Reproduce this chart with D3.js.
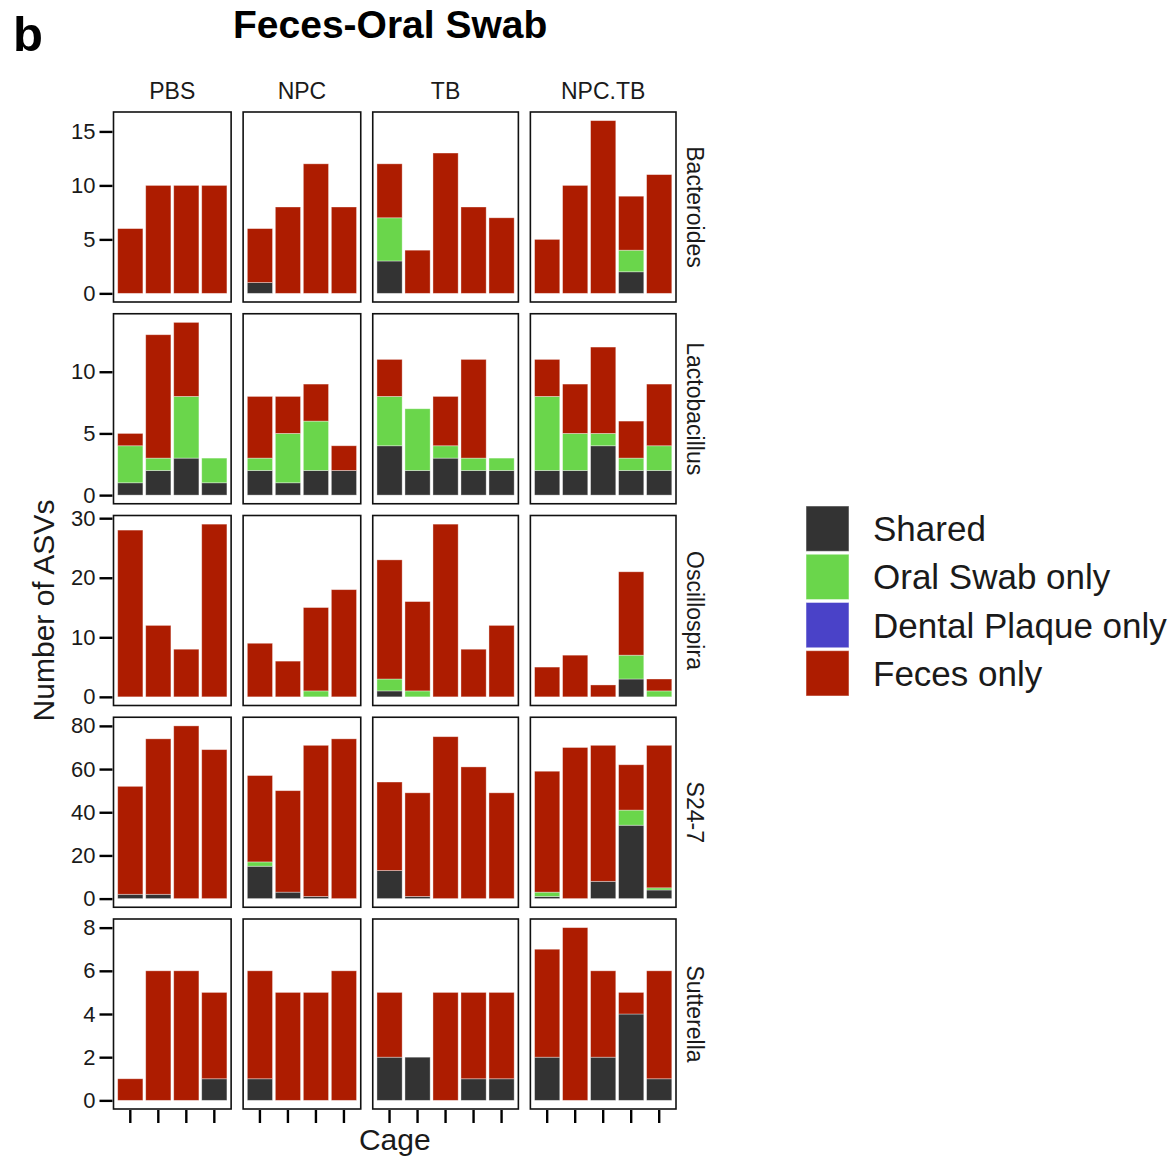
<!DOCTYPE html>
<html>
<head>
<meta charset="utf-8">
<script src="https://cdn.jsdelivr.net/npm/d3@7"></script>
<style>
  html, body { margin: 0; padding: 0; background: #ffffff; }
  svg { display: block; }
  text { font-family: "Liberation Sans", Arial, Helvetica, sans-serif; }
</style>
</head>
<body>
<script>
// ---------------- DATA ----------------
const groups = ["PBS", "NPC", "TB", "NPC.TB"];
const cagesPBS = ["PBS-1", "PBS-2", "PBS-3", "PBS-4"];
const cagesNPC = ["NPC-1", "NPC-2", "NPC-3", "NPC-4"];
const cagesTB = ["TB-1", "TB-2", "TB-3", "TB-4", "TB-5"];
const cagesNPCTB = ["NPC.TB-1", "NPC.TB-2", "NPC.TB-3", "NPC.TB-4", "NPC.TB-5"];
const cageLists = [cagesPBS, cagesNPC, cagesTB, cagesNPCTB];

const genera = ["Bacteroides", "Lactobacillus", "Oscillospira", "S24-7", "Sutterella"];
const categories = ["Shared", "Oral Swab only", "Dental Plaque only", "Feces only"];
const categoryColors = ["#333333", "#6ad64b", "#4a42c8", "#ad1c00"];

// Each row = genus; 18 values = PBS(4), NPC(4), TB(5), NPC.TB(5)
const shared = [
  [0, 0, 0, 0,   1, 0, 0, 0,   3, 0, 0, 0, 0,   0, 0, 0, 2, 0],
  [1, 2, 3, 1,   2, 1, 2, 2,   4, 2, 3, 2, 2,   2, 2, 4, 2, 2],
  [0, 0, 0, 0,   0, 0, 0, 0,   1, 0, 0, 0, 0,   0, 0, 0, 3, 0],
  [2, 2, 0, 0,  15, 3, 1, 0,  13, 1, 0, 0, 0,   1, 0, 8, 34, 4],
  [0, 0, 0, 1,   1, 0, 0, 0,   2, 2, 0, 1, 1,   2, 0, 2, 4, 1]
];
const oralSwabOnly = [
  [0, 0, 0, 0,   0, 0, 0, 0,   4, 0, 0, 0, 0,   0, 0, 0, 2, 0],
  [3, 1, 5, 2,   1, 4, 4, 0,   4, 5, 1, 1, 1,   6, 3, 1, 1, 2],
  [0, 0, 0, 0,   0, 0, 1, 0,   2, 1, 0, 0, 0,   0, 0, 0, 4, 1],
  [0, 0, 0, 0,   2, 0, 0, 0,   0, 0, 0, 0, 0,   2, 0, 0, 7, 1],
  [0, 0, 0, 0,   0, 0, 0, 0,   0, 0, 0, 0, 0,   0, 0, 0, 0, 0]
];
const dentalPlaqueOnly = [
  [0, 0, 0, 0,   0, 0, 0, 0,   0, 0, 0, 0, 0,   0, 0, 0, 0, 0],
  [0, 0, 0, 0,   0, 0, 0, 0,   0, 0, 0, 0, 0,   0, 0, 0, 0, 0],
  [0, 0, 0, 0,   0, 0, 0, 0,   0, 0, 0, 0, 0,   0, 0, 0, 0, 0],
  [0, 0, 0, 0,   0, 0, 0, 0,   0, 0, 0, 0, 0,   0, 0, 0, 0, 0],
  [0, 0, 0, 0,   0, 0, 0, 0,   0, 0, 0, 0, 0,   0, 0, 0, 0, 0]
];
const fecesOnly = [
  [6, 10, 10, 10,   5, 8, 12, 8,   5, 4, 13, 8, 7,   5, 10, 16, 5, 11],
  [1, 10, 6, 0,     5, 3, 3, 2,    3, 0, 4, 8, 0,    3, 4, 7, 3, 5],
  [28, 12, 8, 29,   9, 6, 14, 18,  20, 15, 29, 8, 12, 5, 7, 2, 14, 2],
  [50, 72, 80, 69,  40, 47, 70, 74, 41, 48, 75, 61, 49, 56, 70, 63, 21, 66],
  [1, 6, 6, 4,      5, 5, 5, 6,    3, 0, 5, 4, 4,    5, 8, 4, 1, 5]
];
const yTicks = [
  [0, 5, 10, 15],
  [0, 5, 10],
  [0, 10, 20, 30],
  [0, 20, 40, 60, 80],
  [0, 2, 4, 6, 8]
];

// ---------------- LAYOUT ----------------
const W = 1174, H = 1157;
const panelTop = 112, panelH = 190, rowGap = 11.75;
const panelLeft = 113.5, panelRight = 676, colGap = 12;
const FONT = '"Liberation Sans", Arial, Helvetica, sans-serif';

const svg = d3.select("body").append("svg").attr("width", W).attr("height", H);

const seriesArrays = [shared, oralSwabOnly, dentalPlaqueOnly, fecesOnly];
const color = d3.scaleOrdinal().domain(categories).range(categoryColors);

const units = cageLists.map(c => c.length + 0.2);
const unitW = (panelRight - panelLeft - colGap * (groups.length - 1)) / d3.sum(units);
const colX = [];
{
  let x = panelLeft;
  units.forEach(u => { colX.push([x, x + u * unitW]); x += u * unitW + colGap; });
}
const xScales = cageLists.map((cages, g) =>
  d3.scaleBand().domain(cages).range(colX[g]).paddingInner(0.1).paddingOuter(0.15));

const stack = d3.stack().keys(categories);

genera.forEach((genus, r) => {
  const top = panelTop + r * (panelH + rowGap);
  const bottom = top + panelH;
  let offset = 0;
  const recordsByGroup = cageLists.map(cages => {
    const recs = cages.map((cage, i) => {
      const rec = { cage };
      categories.forEach((c, k) => { rec[c] = seriesArrays[k][r][offset + i]; });
      return rec;
    });
    offset += cages.length;
    return recs;
  });
  const maxTotal = d3.max(recordsByGroup.flat(), d => d3.sum(categories, c => d[c]));
  const y = d3.scaleLinear().domain([-0.05 * maxTotal, 1.05 * maxTotal]).range([bottom, top]);

  groups.forEach((grp, g) => {
    const x = xScales[g];
    const [x0, x1] = colX[g];
    const panel = svg.append("g");
    panel.append("rect").attr("x", x0).attr("y", top).attr("width", x1 - x0).attr("height", panelH)
      .attr("fill", "#ffffff");
    const stacked = stack(recordsByGroup[g]);
    stacked.forEach(layer => {
      panel.append("g").selectAll("rect").data(layer).join("rect")
        .attr("x", d => x(d.data.cage))
        .attr("width", x.bandwidth())
        .attr("y", d => y(d[1]))
        .attr("height", d => Math.max(0, y(d[0]) - y(d[1])))
        .attr("fill", color(layer.key))
        .attr("stroke", "#ffffff")
        .attr("stroke-opacity", d => (d[1] - d[0]) > 0 ? 0.45 : 0)
        .attr("stroke-width", 0.8);
    });
    panel.append("rect").attr("x", x0).attr("y", top).attr("width", x1 - x0).attr("height", panelH)
      .attr("fill", "none").attr("stroke", "#111111").attr("stroke-width", 1.6);

    if (r === genera.length - 1) {
      const ax = svg.append("g").attr("transform", `translate(0,${bottom + 1})`)
        .call(d3.axisBottom(x).tickSize(13).tickFormat(""));
      ax.select(".domain").remove();
      ax.selectAll(".tick line").attr("stroke", "#000").attr("stroke-width", 2.4);
    }
    if (r === 0) {
      svg.append("text").attr("x", (x0 + x1) / 2).attr("y", 99)
        .attr("text-anchor", "middle").style("font-size", "23px").attr("fill", "#1a1a1a")
        .text(grp);
    }
  });

  const ay = svg.append("g").attr("transform", `translate(${panelLeft - 1},0)`)
    .call(d3.axisLeft(y).tickValues(yTicks[r]).tickSize(13).tickPadding(4).tickFormat(d3.format("d")));
  ay.select(".domain").remove();
  ay.selectAll(".tick line").attr("stroke", "#000").attr("stroke-width", 2.4);
  ay.selectAll(".tick text").style("font-size", "22px").style("font-family", FONT).attr("fill", "#1a1a1a");

  const cy = (top + bottom) / 2;
  svg.append("text").attr("transform", `translate(695,${cy}) rotate(90)`)
    .attr("text-anchor", "middle").attr("dominant-baseline", "central")
    .style("font-size", "23px").attr("fill", "#1a1a1a").text(genus);
});

svg.append("text").attr("x", (panelLeft + panelRight) / 2).attr("y", 1150)
  .attr("text-anchor", "middle").style("font-size", "30px").attr("fill", "#1a1a1a").text("Cage");
const yMid = (panelTop + panelTop + 5 * panelH + 4 * rowGap) / 2;
svg.append("text").attr("transform", `translate(54,${yMid}) rotate(-90)`)
  .attr("text-anchor", "middle").style("font-size", "30px").attr("fill", "#1a1a1a").text("Number of ASVs");

svg.append("text").attr("x", 233).attr("y", 38).style("font-size", "39px").style("font-weight", "bold")
  .attr("fill", "#000").text("Feces-Oral Swab");
svg.append("text").attr("x", 13).attr("y", 51).style("font-size", "49px").style("font-weight", "bold")
  .attr("fill", "#000").text("b");

const legendY = d3.scaleBand().domain(categories).range([506, 696]).paddingInner(0.06);
const leg = svg.append("g");
leg.selectAll("rect").data(categories).join("rect")
  .attr("x", 806).attr("y", d => legendY(d)).attr("width", 43).attr("height", legendY.bandwidth())
  .attr("fill", d => color(d)).attr("stroke", "#ffffff").attr("stroke-opacity", 0.5).attr("stroke-width", 1);
leg.selectAll("text").data(categories).join("text")
  .attr("x", 873).attr("y", d => legendY(d) + legendY.bandwidth() / 2)
  .attr("dominant-baseline", "central").style("font-size", "35px").attr("fill", "#1a1a1a")
  .text(d => d);
</script>
</body>
</html>
